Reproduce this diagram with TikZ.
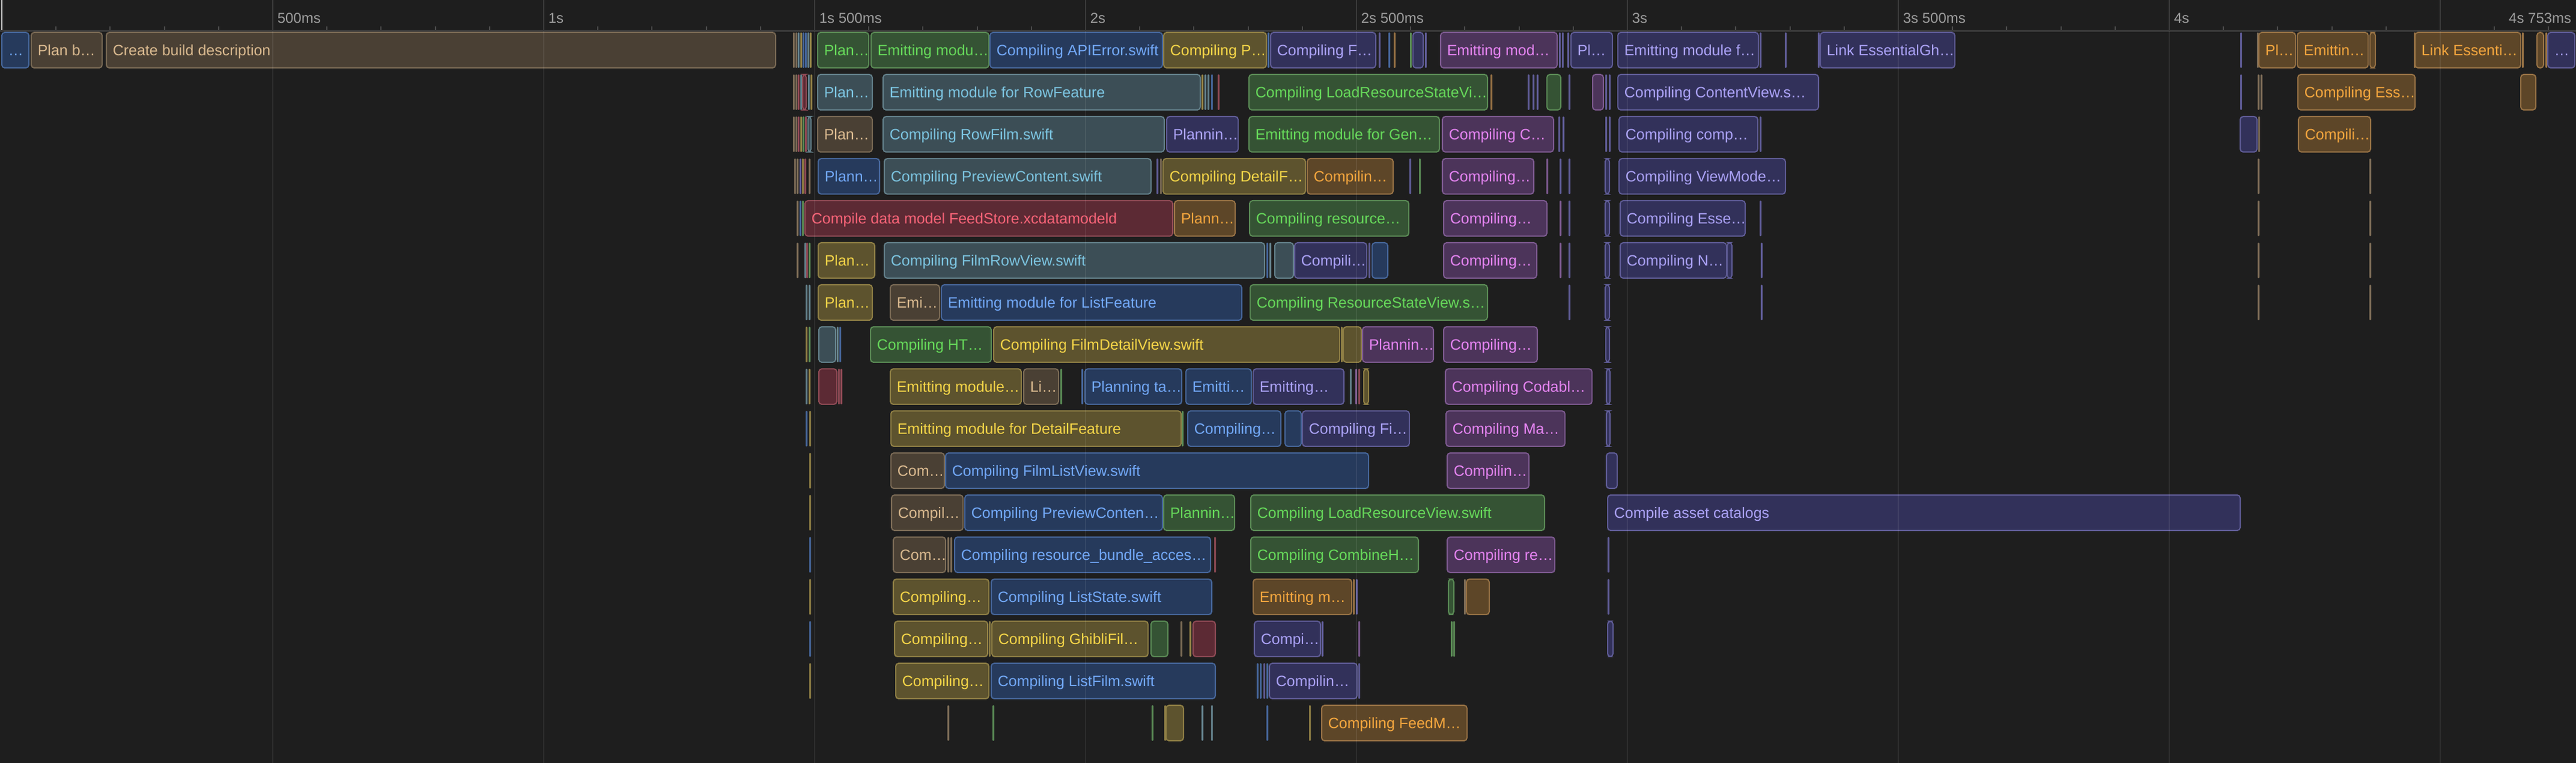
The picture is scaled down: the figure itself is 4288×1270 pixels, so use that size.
\documentclass[tikz,border=0pt]{standalone}
\usepackage{fontspec}
\setmainfont{Liberation Sans}
\definecolor{bgc}{HTML}{1E1E1E}
\definecolor{sepc}{HTML}{3A3A3A}
\definecolor{tickc}{HTML}{4A4A4A}
\definecolor{axtc}{HTML}{9C9C9C}
\definecolor{brF}{HTML}{4A4034}\definecolor{brD}{HTML}{7A6A55}\definecolor{brT}{HTML}{D9B98F}
\definecolor{blF}{HTML}{263A5C}\definecolor{blD}{HTML}{46669A}\definecolor{blT}{HTML}{72A8F8}
\definecolor{grF}{HTML}{355334}\definecolor{grD}{HTML}{5A8A55}\definecolor{grT}{HTML}{66D85A}
\definecolor{yeF}{HTML}{5D532E}\definecolor{yeD}{HTML}{8F7F45}\definecolor{yeT}{HTML}{F5D548}
\definecolor{inF}{HTML}{32315A}\definecolor{inD}{HTML}{5F5C96}\definecolor{inT}{HTML}{ABA2F7}
\definecolor{teF}{HTML}{3C4E56}\definecolor{teD}{HTML}{63808A}\definecolor{teT}{HTML}{7CC4E0}
\definecolor{piF}{HTML}{4C345A}\definecolor{piD}{HTML}{7D5A90}\definecolor{piT}{HTML}{E584F2}
\definecolor{orF}{HTML}{5D4628}\definecolor{orD}{HTML}{977245}\definecolor{orT}{HTML}{F4A63E}
\definecolor{reF}{HTML}{5C2A34}\definecolor{reD}{HTML}{8F4A55}\definecolor{reT}{HTML}{FA6478}
\newcounter{bn}
\tikzset{
  bx/.style={fill=#1F, draw=#1D, line width=0.5pt, rounded corners=1.25pt},
  lbl/.style={text=#1T, anchor=base west, inner sep=0pt, font=\fontsize{6.25}{7}\selectfont},
  sl/.style={fill=#1D, rounded corners=0.3pt},
  axlbl/.style={text=axtc, anchor=base west, inner sep=0pt, font=\fontsize{6}{7}\selectfont},
}
% labelled bar: x1, x2, row, colour, text
\newcommand\tb[5]{%
  \pgfmathsetmacro\yt{54+70*(#3-1)}%
  \stepcounter{bn}%
  \draw[bx=#4] (#1,\yt) rectangle (#2,\yt+59);
  \node[lbl=#4] (b\arabic{bn}) at (#1+10,\yt+38.5) {#5};
}
% unlabelled small box
\newcommand\tk[4]{%
  \pgfmathsetmacro\yt{54+70*(#3-1)}%
  \draw[bx=#4] (#1,\yt) rectangle (#2,\yt+59);
}
% thin sliver: x, row, colour
\newcommand\ts[3]{%
  \pgfmathsetmacro\yt{54+70*(#2-1)}%
  \fill[sl=#3] (#1,\yt) rectangle (#1+3,\yt+59);
}
\begin{document}
\begin{tikzpicture}[x=0.25pt,y=-0.25pt]
\fill[bgc] (0,0) rectangle (4288,1270);
\useasboundingbox (0,0) rectangle (4288,1270);
% ---------- header ----------
\draw[color=white!75!black, line width=0.5pt] (3,0) -- (3,52);
\foreach \k in {1,...,47}{
  \pgfmathtruncatemacro\m{mod(\k,5)}
  \ifnum\m>0 \draw[tickc, line width=0.5pt] ({3+90.2*\k},44) -- ({3+90.2*\k},52); \fi
}
\foreach \k in {1,...,9}{
  \draw[sepc, line width=0.5pt] ({3+451*\k},0) -- ({3+451*\k},52);
}
\foreach \k/\t in {1/500ms,2/1s,3/1s 500ms,4/2s,5/2s 500ms,6/3s,7/3s 500ms,8/4s}{
  \node[axlbl] (t\k) at ({10+451*\k},39) {\t};
}
\node[axlbl, anchor=base east] (tend) at (4281,39) {4s 753ms};
\draw[sepc, line width=0.75pt] (0,52) -- (4288,52);
% ---------- row 1 ----------
\tb{3}{48}{1}{bl}{…}
\tb{52}{170}{1}{br}{Plan b…}
\tb{177}{1291}{1}{br}{Create build description}
\ts{1320}{1}{br}\ts{1324}{1}{br}\ts{1328}{1}{te}\ts{1332}{1}{ye}\ts{1336}{1}{bl}\ts{1340}{1}{bl}\ts{1344}{1}{te}\ts{1348}{1}{ye}
\tb{1361}{1446}{1}{gr}{Plan…}
\tb{1450}{1646}{1}{gr}{Emitting modu…}
\tb{1648}{1935}{1}{bl}{Compiling APIError.swift}
\tb{1937}{2108}{1}{ye}{Compiling P…}
\ts{2110}{1}{bl}
\tb{2115}{2290}{1}{in}{Compiling F…}
\ts{2295}{1}{in}\ts{2311}{1}{bl}\ts{2320}{1}{or}\ts{2347}{1}{gr}
\tk{2352}{2369}{1}{in}
\ts{2372}{1}{in}
\tb{2398}{2592}{1}{pi}{Emitting mod…}
\ts{2595}{1}{in}\ts{2600}{1}{in}\ts{2609}{1}{in}
\tb{2615}{2684}{1}{in}{Pl…}
\tb{2693}{2927}{1}{in}{Emitting module f…}
\ts{2929}{1}{in}\ts{2971}{1}{in}\ts{3026}{1}{in}
\tb{3030}{3254}{1}{in}{Link EssentialGh…}
\ts{3729}{1}{in}\ts{3757}{1}{br}
\tb{3760}{3821}{1}{or}{Pl…}
\tb{3824}{3942}{1}{or}{Emittin…}
\tk{3945}{3954}{1}{or}
\ts{4018}{1}{or}
\tb{4020}{4196}{1}{or}{Link Essenti…}
\ts{4198}{1}{or}
\tk{4223}{4234}{1}{or}
\ts{4237}{1}{or}
\tb{4241}{4286}{1}{in}{…}
% ---------- row 2 ----------
\ts{1320}{2}{br}\ts{1324}{2}{br}\ts{1328}{2}{re}\ts{1332}{2}{te}\tk{1336}{1342}{2}{re}\ts{1345}{2}{te}\ts{1349}{2}{ye}
\tb{1361}{1452}{2}{te}{Plan…}
\tb{1470}{1998}{2}{te}{Emitting module for RowFeature}
\ts{2000}{2}{ye}\ts{2005}{2}{te}\ts{2010}{2}{te}\ts{2016}{2}{bl}\ts{2027}{2}{re}
\tb{2079}{2476}{2}{gr}{Compiling LoadResourceStateVi…}
\ts{2481}{2}{or}
\ts{2543}{2}{in}\ts{2551}{2}{in}\ts{2558}{2}{in}
\tk{2575}{2598}{2}{gr}
\ts{2611}{2}{in}
\tk{2651}{2669}{2}{pi}
\ts{2672}{2}{in}\ts{2678}{2}{in}
\tb{2693}{3027}{2}{in}{Compiling ContentView.s…}
\ts{3729}{2}{in}\ts{3758}{2}{br}\ts{3763}{2}{br}
\tb{3825}{4020}{2}{or}{Compiling Ess…}
\tk{4196}{4221}{2}{or}
% ---------- row 3 ----------
\ts{1320}{3}{br}\ts{1324}{3}{br}\ts{1328}{3}{re}\ts{1332}{3}{ye}\ts{1336}{3}{gr}\ts{1340}{3}{re}\tk{1345}{1350}{3}{te}
\tb{1361}{1452}{3}{br}{Plan…}
\tb{1470}{1938}{3}{te}{Compiling RowFilm.swift}
\tb{1942}{2061}{3}{in}{Plannin…}
\tb{2079}{2396}{3}{gr}{Emitting module for Gen…}
\tb{2401}{2586}{3}{pi}{Compiling C…}
\ts{2594}{3}{in}\ts{2601}{3}{in}\ts{2672}{3}{in}\ts{2678}{3}{in}
\tb{2695}{2926}{3}{in}{Compiling comp…}
\ts{2929}{3}{in}
\tk{3729}{3757}{3}{in}
\ts{3759}{3}{br}
\tb{3826}{3946}{3}{or}{Compili…}
% ---------- row 4 ----------
\ts{1322}{4}{br}\ts{1326}{4}{br}\ts{1331}{4}{in}\ts{1335}{4}{ye}\ts{1339}{4}{re}\ts{1346}{4}{br}
\tb{1362}{1464}{4}{bl}{Plann…}
\tb{1472}{1916}{4}{te}{Compiling PreviewContent.swift}
\ts{1925}{4}{in}\ts{1931}{4}{br}
\tb{1936}{2173}{4}{ye}{Compiling DetailF…}
\tb{2176}{2319}{4}{or}{Compilin…}
\ts{2346}{4}{in}\ts{2362}{4}{gr}
\tb{2401}{2553}{4}{pi}{Compiling…}
\ts{2574}{4}{pi}\ts{2596}{4}{in}\ts{2611}{4}{in}
\tk{2672}{2679}{4}{in}
\tb{2695}{2972}{4}{in}{Compiling ViewMode…}
\ts{3758}{4}{br}\ts{3944}{4}{br}
% ---------- row 5 ----------
\ts{1326}{5}{br}\ts{1331}{5}{bl}\ts{1335}{5}{gr}
\tb{1340}{1952}{5}{re}{Compile data model FeedStore.xcdatamodeld}
\tb{1955}{2056}{5}{or}{Plann…}
\tb{2080}{2345}{5}{gr}{Compiling resource…}
\tb{2403}{2575}{5}{pi}{Compiling…}
\ts{2596}{5}{pi}\ts{2611}{5}{in}
\tk{2672}{2679}{5}{in}
\tb{2697}{2905}{5}{in}{Compiling Esse…}
\ts{2929}{5}{in}
\ts{3758}{5}{br}\ts{3944}{5}{br}
% ---------- row 6 ----------
\ts{1326}{6}{br}\ts{1339}{6}{te}\ts{1342}{6}{re}\ts{1346}{6}{gr}
\tb{1362}{1456}{6}{ye}{Plan…}
\tb{1472}{2105}{6}{te}{Compiling FilmRowView.swift}
\ts{2108}{6}{bl}\ts{2113}{6}{te}
\tk{2122}{2153}{6}{te}
\tb{2155}{2275}{6}{in}{Compili…}
\ts{2278}{6}{in}
\tk{2284}{2310}{6}{bl}
\tb{2403}{2558}{6}{pi}{Compiling…}
\ts{2596}{6}{pi}\ts{2611}{6}{in}
\tk{2672}{2679}{6}{in}
\tb{2697}{2874}{6}{in}{Compiling N…}
\tk{2875}{2883}{6}{in}
\ts{2931}{6}{in}
\ts{3758}{6}{br}\ts{3944}{6}{br}
% ---------- row 7 ----------
\ts{1341}{7}{te}\ts{1346}{7}{te}
\tb{1362}{1452}{7}{ye}{Plan…}
\tb{1482}{1564}{7}{br}{Emi…}
\tb{1567}{2067}{7}{bl}{Emitting module for ListFeature}
\tb{2081}{2476}{7}{gr}{Compiling ResourceStateView.s…}
\ts{2611}{7}{in}
\tk{2672}{2679}{7}{in}
\ts{2931}{7}{in}
\ts{3758}{7}{br}\ts{3944}{7}{br}
% ---------- row 8 ----------
\ts{1341}{8}{ye}\ts{1346}{8}{gr}
\tk{1363}{1391}{8}{te}
\ts{1393}{8}{te}\ts{1397}{8}{bl}
\tb{1449}{1650}{8}{gr}{Compiling HT…}
\tb{1654}{2230}{8}{ye}{Compiling FilmDetailView.swift}
\ts{2232}{8}{ye}
\tk{2236}{2266}{8}{ye}
\tb{2268}{2386}{8}{pi}{Plannin…}
\tb{2403}{2559}{8}{pi}{Compiling…}
\tk{2673}{2679}{8}{in}
% ---------- row 9 ----------
\ts{1341}{9}{te}\ts{1346}{9}{ye}
\tk{1363}{1393}{9}{re}
\ts{1395}{9}{re}\ts{1399}{9}{re}
\tb{1482}{1700}{9}{ye}{Emitting module…}
\tb{1704}{1762}{9}{br}{Li…}
\ts{1765}{9}{gr}\ts{1800}{9}{bl}
\tb{1806}{1967}{9}{bl}{Planning ta…}
\tb{1974}{2083}{9}{bl}{Emitti…}
\tb{2086}{2237}{9}{in}{Emitting…}
\ts{2247}{9}{te}\ts{2256}{9}{pi}\ts{2261}{9}{re}
\tk{2270}{2278}{9}{ye}
\tb{2406}{2650}{9}{pi}{Compiling Codabl…}
\tk{2674}{2680}{9}{in}
% ---------- row 10 ----------
\ts{1341}{10}{bl}\ts{1347}{10}{ye}
\tb{1483}{1966}{10}{ye}{Emitting module for DetailFeature}
\ts{1967}{10}{gr}
\tb{1977}{2132}{10}{bl}{Compiling…}
\tk{2139}{2166}{10}{bl}
\tb{2168}{2346}{10}{in}{Compiling Fi…}
\tb{2407}{2605}{10}{pi}{Compiling Ma…}
\tk{2674}{2680}{10}{in}
% ---------- row 11 ----------
\ts{1347}{11}{ye}
\tb{1483}{1572}{11}{br}{Com…}
\tb{1574}{2278}{11}{bl}{Compiling FilmListView.swift}
\tb{2409}{2545}{11}{pi}{Compilin…}
\tk{2674}{2692}{11}{in}
% ---------- row 12 ----------
\ts{1347}{12}{ye}
\tb{1484}{1603}{12}{br}{Compil…}
\tb{1606}{1935}{12}{bl}{Compiling PreviewConten…}
\tb{1937}{2055}{12}{gr}{Plannin…}
\tb{2082}{2571}{12}{gr}{Compiling LoadResourceView.swift}
\tb{2676}{3729}{12}{in}{Compile asset catalogs}
% ---------- row 13 ----------
\ts{1347}{13}{bl}
\tb{1487}{1574}{13}{br}{Com…}
\ts{1577}{13}{br}\ts{1582}{13}{br}
\tb{1589}{2015}{13}{bl}{Compiling resource\_bundle\_acces…}
\ts{2021}{13}{re}
\tb{2082}{2361}{13}{gr}{Compiling CombineH…}
\tb{2409}{2588}{13}{pi}{Compiling re…}
\ts{2676}{13}{in}
% ---------- row 14 ----------
\ts{1347}{14}{ye}
\tb{1487}{1646}{14}{ye}{Compiling…}
\tb{1650}{2017}{14}{bl}{Compiling ListState.swift}
\tb{2086}{2250}{14}{or}{Emitting m…}
\ts{2252}{14}{or}\ts{2257}{14}{in}
\tk{2411}{2420}{14}{gr}
\ts{2437}{14}{br}
\tk{2441}{2479}{14}{or}
\ts{2676}{14}{in}
% ---------- row 15 ----------
\ts{1347}{15}{bl}
\tb{1489}{1644}{15}{ye}{Compiling…}
\ts{1646}{15}{ye}
\tb{1651}{1911}{15}{ye}{Compiling GhibliFil…}
\tk{1916}{1944}{15}{gr}
\ts{1965}{15}{br}\ts{1980}{15}{ye}
\tk{1986}{2023}{15}{re}
\tb{2088}{2198}{15}{in}{Compi…}
\ts{2200}{15}{in}\ts{2261}{15}{pi}
\ts{2415}{15}{gr}\ts{2419}{15}{gr}
\tk{2676}{2685}{15}{in}
% ---------- row 16 ----------
\ts{1347}{16}{ye}
\tb{1491}{1646}{16}{ye}{Compiling…}
\tb{1650}{2023}{16}{bl}{Compiling ListFilm.swift}
\ts{2092}{16}{bl}\ts{2097}{16}{bl}\ts{2103}{16}{in}\ts{2108}{16}{bl}
\tb{2113}{2259}{16}{in}{Compilin…}
\ts{2261}{16}{in}
% ---------- row 17 ----------
\ts{1577}{17}{br}\ts{1652}{17}{gr}\ts{1917}{17}{gr}\ts{1938}{17}{ye}
\tk{1941}{1970}{17}{ye}
\ts{2000}{17}{te}\ts{2016}{17}{te}\ts{2108}{17}{bl}\ts{2179}{17}{ye}
\tb{2200}{2442}{17}{or}{Compiling FeedM…}
% ---------- grid overlay ----------
\foreach \k in {1,...,9}{
  \draw[white, opacity=0.07, line width=0.5pt] ({3+451*\k},52) -- ({3+451*\k},1270);
}
\end{tikzpicture}
\end{document}
